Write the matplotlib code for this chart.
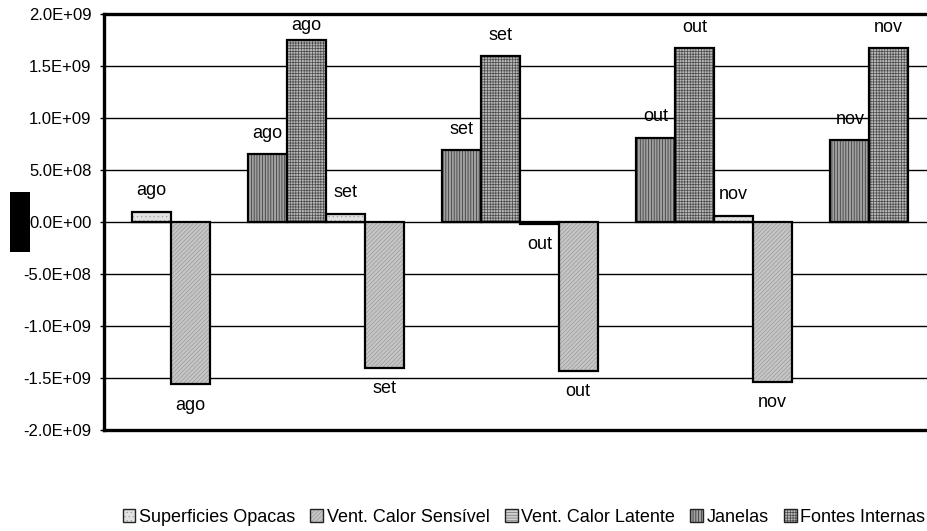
import numpy as np
import matplotlib
matplotlib.use("Agg")
from matplotlib import pyplot as plt
from matplotlib.patches import Rectangle
from matplotlib.ticker import FormatStrFormatter

plt.rcParams['font.family'] = ['Liberation Sans', 'DejaVu Sans']
plt.rcParams['hatch.linewidth'] = 0.5

meses = ["ago", "set", "out", "nov"]
series = ["Superficies Opacas", "Vent. Calor Sensível", "Vent. Calor Latente",
          "Janelas", "Fontes Internas"]

superficies = [1.0e8, 8.0e7, -2.0e7, 6.0e7]
vent_sensivel = [-1.56e9, -1.40e9, -1.43e9, -1.54e9]
vent_latente = [np.nan, np.nan, np.nan, np.nan]
janelas = [6.55e8, 6.9e8, 8.1e8, 7.9e8]
fontes = [1.75e9, 1.595e9, 1.675e9, 1.675e9]

valores = [superficies, vent_sensivel, vent_latente, janelas, fontes]

# fill colour, hatch colour, hatch pattern for each series
estilos = [
    ("#e2e2e2", "#a8a8a8", "...."),
    ("#c6c6c6", "#9a9a9a", "////////"),
    ("#d0d0d0", "#707070", "------"),
    ("#a0a0a0", "#303030", "||||||"),
    ("#b8b8b8", "#4a4a4a", "++++++"),
]

fig = plt.figure(figsize=(9.28, 5.31), dpi=100)
ax = fig.add_axes([104 / 928, 1 - 430 / 531, 832 / 928, 416 / 531])

ymin, ymax = -2.0e9, 2.0e9
deslocamento = 2.0e8    # label distance from the bar end
teto = 1.89e9           # labels stay inside the plot area

n = len(series)
handles = []
for s, (vals, (fc, hc, hatch)) in enumerate(zip(valores, estilos)):
    x = np.arange(len(meses)) * n + s
    ax.bar(x, vals, width=1.0, color=fc, edgecolor=hc, hatch=hatch,
           linewidth=0, zorder=2)
    ax.bar(x, vals, width=1.0, fill=False, edgecolor="black",
           linewidth=1.6, zorder=3)
    h1 = Rectangle((0, 0), 1, 1, facecolor=fc, edgecolor=hc, hatch=hatch, linewidth=0)
    h2 = Rectangle((0, 0), 1, 1, fill=False, edgecolor="#222222", linewidth=1.0)
    handles.append((h1, h2))
    for xi, v, mes in zip(x, vals, meses):
        if np.isnan(v):
            continue
        if v >= 0:
            y = min(v + deslocamento, teto)
        else:
            y = max(v - deslocamento, -teto)
        ax.text(xi, y, mes, ha="center", va="center", fontsize=13, zorder=4)

ax.set_xlim(-0.5 - 0.72, len(meses) * n - 0.5 + 0.72)
ax.set_ylim(ymin, ymax)
ax.set_yticks(np.arange(ymin, ymax + 1, 5.0e8))
ax.yaxis.set_major_formatter(FormatStrFormatter("%.1E"))
ax.set_xticks([])
ax.tick_params(axis="y", direction="out", length=3, width=1, labelsize=12, pad=6)
ax.grid(axis="y", color="black", linewidth=1.0, zorder=1)
ax.set_axisbelow(True)

for lado in ["left", "top", "bottom"]:
    ax.spines[lado].set_linewidth(2.4)
ax.spines["right"].set_visible(False)

# filled box standing in for the y-axis title
fig.patches.append(Rectangle((10 / 928, 1 - 252 / 531), 20 / 928, 60 / 531,
                             transform=fig.transFigure, facecolor="black",
                             edgecolor="none"))

fig.legend(handles, series, loc="center", bbox_to_anchor=(524 / 928, 1 - 517 / 531),
           ncol=5, frameon=False, fontsize=13, handlelength=0.7, handleheight=0.7,
           handletextpad=0.2, columnspacing=0.85, borderpad=0)

fig.savefig("out.png", dpi=100)
